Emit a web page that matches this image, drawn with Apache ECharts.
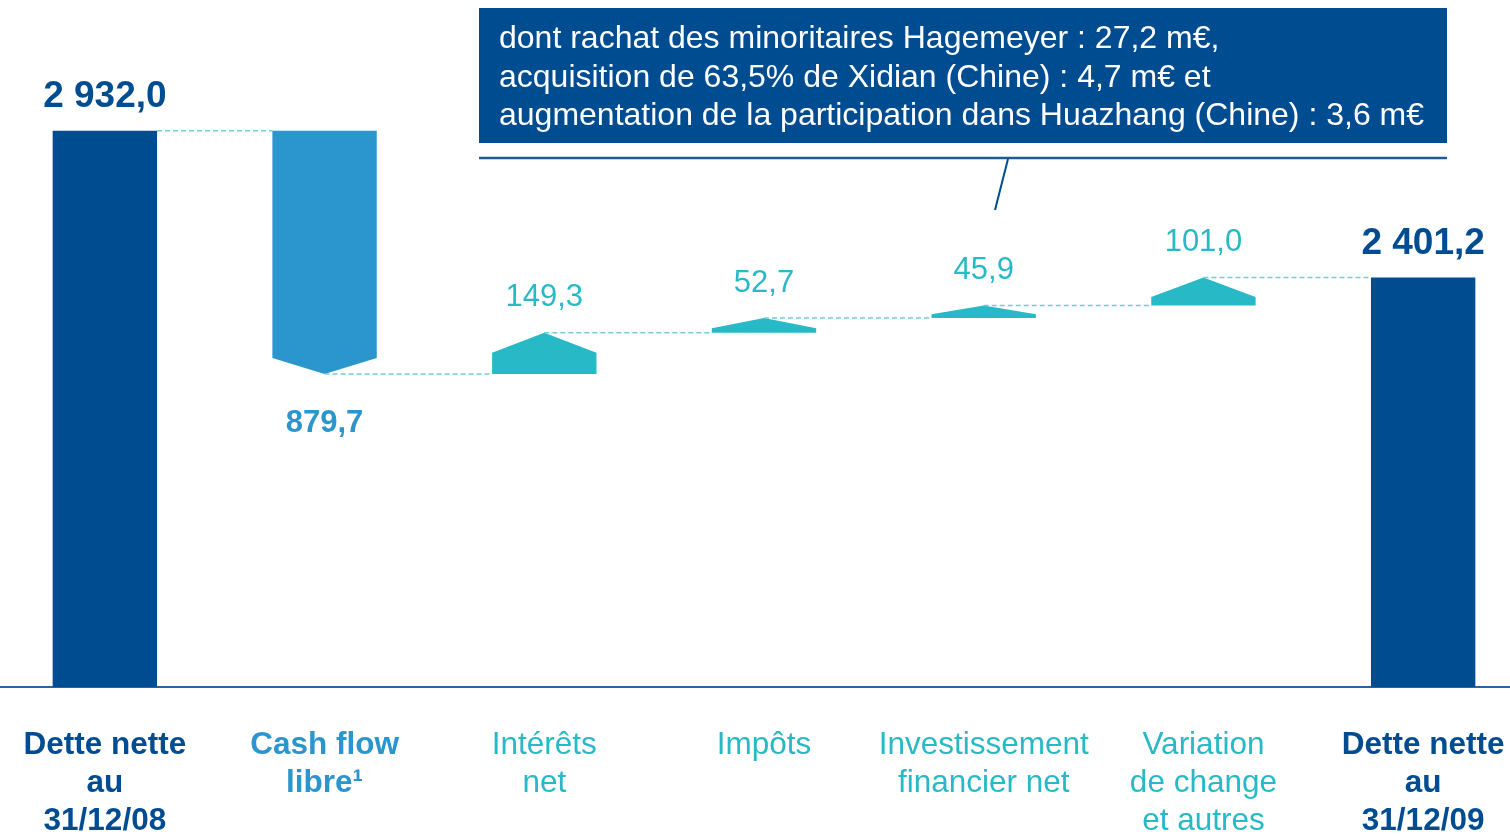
<!DOCTYPE html>
<html>
<head>
<meta charset="utf-8">
<script src="https://cdn.jsdelivr.net/npm/echarts@6.0.0/dist/echarts.min.js"></script>
<style>
  html, body { margin: 0; padding: 0; background: #fff; overflow: hidden; }
  /* chart is a bit wider than the window, like the original slide */
  #main { position: absolute; left: -5px; top: 0; width: 1538px; height: 837px; }
</style>
</head>
<body>
<div id="main"></div>
<script>
// bridge of net debt, m€
const categories = ['Dette nette\nau\n31/12/08', 'Cash flow\nlibre¹', 'Intérêts\nnet', 'Impôts', 'Investissement\nfinancier net', 'Variation\nde change\net autres', 'Dette nette\nau\n31/12/09']
const kinds = ['total', 'delta', 'delta', 'delta', 'delta', 'delta', 'total']
const values = [2932.0, -879.7, 149.3, 52.7, 45.9, 101.0, 2401.2]
const valueLabels = ['2 932,0', '879,7', '149,3', '52,7', '45,9', '101,0', '2 401,2']
const noteLines = [
  'dont rachat des minoritaires Hagemeyer : 27,2 m€,',
  'acquisition de 63,5% de Xidian (Chine) : 4,7 m€ et',
  'augmentation de la participation dans Huazhang (Chine) : 3,6 m€'
]

const DARK = '#004C91'
const CASH = '#2B95CD'
const TEAL = '#28B9C6'
const colors = [DARK, CASH, TEAL, TEAL, TEAL, TEAL, DARK]
const richKey = ['d', 'c', 't', 't', 't', 't', 'd']
const FONT = '"Liberation Sans", Arial, sans-serif'

// running levels: [index, start, end]
let level = 0
const bridge = values.map((v, i) => {
  if (kinds[i] === 'total') {
    level = v
    return [i, 0, v]
  }
  const start = level
  level = level + v
  return [i, start, level]
})

function renderItem (params, api) {
  const i = api.value(0)
  const start = api.value(1)
  const end = api.value(2)
  const cs = params.coordSys
  const w = api.size([1, 0])[0] * 0.475
  const pEnd = api.coord([i, end])
  const cx = pEnd[0]
  const yEnd = pEnd[1]
  const isTotal = kinds[i] === 'total'
  const yStart = isTotal ? cs.y + cs.height : api.coord([i, start])[1]
  const x0 = cx - w / 2
  const x1 = cx + w / 2
  let points
  let labelY
  if (isTotal) {
    points = [[x0, yStart], [x1, yStart], [x1, yEnd], [x0, yEnd]]
    labelY = yEnd - 34
  } else if (end < start) {
    const head = Math.min(16, (yEnd - yStart) * 0.5)
    points = [[x0, yStart], [x1, yStart], [x1, yEnd - head], [cx, yEnd], [x0, yEnd - head]]
    labelY = yEnd + 50
  } else {
    const head = Math.min(20, (yStart - yEnd) * 0.7)
    points = [[x0, yStart], [x1, yStart], [x1, yEnd + head], [cx, yEnd], [x0, yEnd + head]]
    labelY = yEnd - 35
  }
  const children = [{
    type: 'polygon',
    shape: { points },
    style: { fill: colors[i] }
  }, {
    type: 'text',
    x: cx,
    y: labelY,
    style: {
      text: valueLabels[i],
      fill: colors[i],
      fontFamily: FONT,
      fontSize: isTotal ? 37 : 31,
      fontWeight: i < 2 || isTotal ? 'bold' : 'normal',
      align: 'center',
      verticalAlign: 'middle'
    }
  }]
  if (i < categories.length - 1) {
    const nextLeft = api.coord([i + 1, end])[0] - w / 2
    children.push({
      type: 'line',
      shape: { x1: isTotal ? x1 : cx, y1: yEnd, x2: nextLeft, y2: yEnd },
      style: { stroke: '#72CCD7', lineWidth: 1.5, lineDash: [5, 3] }
    })
  }
  return { type: 'group', children }
}

const labelStyle = (color, weight) => ({
  color, fontWeight: weight, fontSize: 31.5, lineHeight: 38, fontFamily: FONT
})

const option = {
  animation: false,
  grid: { left: 0, right: 0, top: 40, bottom: 142 },
  xAxis: {
    type: 'category',
    data: categories,
    axisTick: { show: false },
    axisLine: { lineStyle: { color: '#2466A6', width: 2 } },
    axisLabel: {
      interval: 0,
      margin: 39,
      formatter: (v, idx) => v.split('\n').map(l => `{${richKey[idx]}|${l}}`).join('\n'),
      rich: {
        d: labelStyle(DARK, 'bold'),
        c: labelStyle(CASH, 'bold'),
        t: labelStyle(TEAL, 'normal')
      }
    },
    splitLine: { show: false }
  },
  yAxis: {
    type: 'value',
    min: 920,
    max: 3260,
    show: false
  },
  series: [{
    type: 'custom',
    renderItem,
    data: bridge
  }],
  graphic: [{
    type: 'rect',
    shape: { x: 484, y: 8, width: 968, height: 135 },
    style: { fill: DARK }
  }, {
    type: 'text',
    x: 504,
    y: 20,
    style: {
      text: noteLines.join('\n'),
      fill: '#fff',
      fontFamily: FONT,
      fontSize: 32,
      lineHeight: 38.5
    }
  }, {
    type: 'line',
    shape: { x1: 484, y1: 158, x2: 1452, y2: 158 },
    style: { stroke: '#1D5B98', lineWidth: 2.5 }
  }, {
    type: 'line',
    shape: { x1: 1013, y1: 159, x2: 1000, y2: 210 },
    style: { stroke: DARK, lineWidth: 2 }
  }]
}

const chart = echarts.init(document.getElementById('main'))
chart.setOption(option)
</script>
</body>
</html>
